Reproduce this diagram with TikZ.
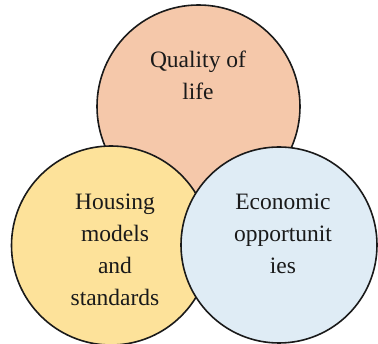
\documentclass[tikz,border=0pt]{standalone}
\usepackage{fontspec}
\setmainfont{Liberation Serif}
\definecolor{peach}{HTML}{F5C8AA}
\definecolor{sand}{HTML}{FDE29A}
\definecolor{ice}{HTML}{DFECF5}
\definecolor{edge}{HTML}{1A1A1A}
\begin{document}
\begin{tikzpicture}[x=1pt,y=-1pt,
  ring/.style={draw=edge,line width=1.6pt},
  lbl/.style={align=center,font=\fontsize{23.5}{32}\selectfont,text=edge,inner sep=0pt}]
\useasboundingbox (0,0) rectangle (378,344);
\fill[peach,ring] (198.5,106.5) circle (101.5);
\fill[sand,ring] (111,245.5) circle (99.5);
\fill[ice,ring] (279,245) circle (98);
\node[lbl] (q) at (198,75.5) {Quality of\\life};
\node[lbl] (h) at (115,249.5) {Housing\\models\\and\\standards};
\node[lbl] (e) at (283,233.5) {Economic\\opportunit\\ies};
\end{tikzpicture}
\end{document}
